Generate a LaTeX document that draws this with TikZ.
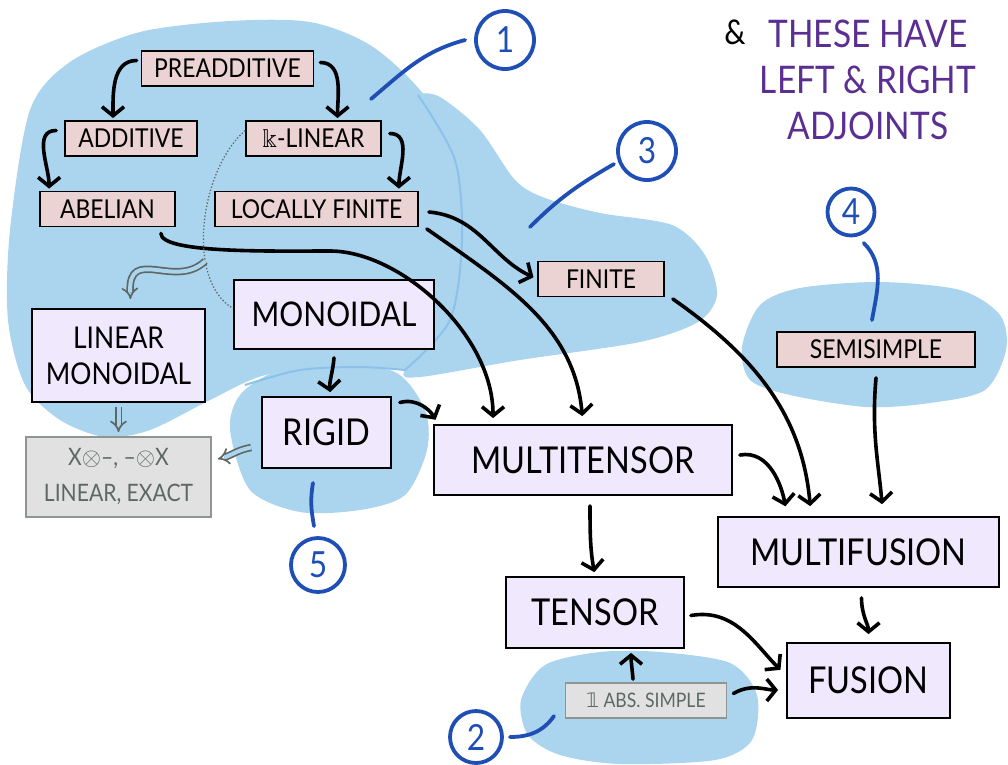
\documentclass[tikz,border=0pt]{standalone}
\usepackage{fontspec}
\setmainfont{Lato}[FakeStretch=0.88]
\newfontfamily\symfont{DejaVu Sans}
\usepackage{amssymb}
\usetikzlibrary{arrows.meta}

\definecolor{blob}{HTML}{ABD4EF}
\definecolor{blobedge}{HTML}{8CC2EA}
\definecolor{ink}{HTML}{1F4FB5}
\definecolor{plum}{HTML}{5B2F91}
\definecolor{catpink}{HTML}{EAD3D2}
\definecolor{lilac}{HTML}{F0E8FC}
\definecolor{notefill}{HTML}{E1E1E1}
\definecolor{notegray}{HTML}{5E6863}

\begin{document}
\begin{tikzpicture}[x=1pt, y=1pt,
    catbox/.style={draw=black, line width=1.8pt, fill=catpink, minimum width=#1,
        minimum height=35pt, inner sep=0pt, font=\fontsize{26}{30}\selectfont},
    bigbox/.style={draw=black, line width=1.8pt, fill=lilac, minimum width=#1,
        minimum height=70pt, inner sep=0pt, font=\fontsize{37}{44}\selectfont},
    notebox/.style={draw=notegray!70, line width=1.8pt, fill=notefill, text=notegray,
        minimum width=#1, inner sep=0pt, align=center},
    tag/.style={circle, draw=ink, line width=3.8pt, text=ink, minimum size=#1,
        inner sep=0pt, font=\fontsize{36}{36}\selectfont},
    tagline/.style={draw=ink, line width=3.8pt, line cap=round},
    flow/.style={draw=black, line width=3.6pt, line cap=round,
        -{Straight Barb[length=9pt,width=22pt]}, shorten >=2pt},
    implies/.style={draw=notegray, double=blob, double distance=4pt, line width=1.7pt,
        -{Implies[length=8pt]}},
  ]
    \useasboundingbox (0,0) rectangle (1008,-764);

    % Regions
    \fill[blob] plot[smooth cycle] coordinates {(30,-110) (70,-62) (140,-32) (230,-21)
        (310,-22) (370,-45) (420,-90) (468,-160) (478,-260) (466,-330) (420,-368)
        (330,-366) (262,-376) (210,-400) (150,-430) (105,-437) (60,-420) (25,-385)
        (8,-320) (10,-230)};
    \fill[blob] plot[smooth cycle] coordinates {(418,-95) (440,-97) (480,-130) (515,-180)
        (545,-198) (600,-213) (672,-225) (705,-255) (717,-295) (698,-322) (640,-342)
        (520,-360) (420,-377) (405,-370) (450,-320) (462,-240) (455,-160) (430,-115)};
    \fill[blob] plot[smooth cycle] coordinates {(230,-430) (240,-395) (275,-372)
        (330,-365) (395,-372) (425,-410) (427,-450) (405,-495) (360,-510) (300,-512)
        (250,-490)};
    \fill[blob] plot[smooth cycle] coordinates {(742,-347) (760,-305) (800,-288)
        (880,-282) (960,-290) (1000,-315) (1006,-350) (985,-390) (930,-403) (866,-407)
        (790,-395) (750,-380)};
    \fill[blob] plot[smooth cycle] coordinates {(521,-700) (545,-665) (600,-652)
        (660,-652) (730,-663) (757,-695) (752,-740) (715,-760) (620,-764) (560,-755)
        (528,-735)};
    \draw[blobedge, line width=2pt] plot[smooth] coordinates {(418,-95) (455,-160)
        (462,-240) (450,-320) (405,-370)};
    \draw[blobedge, line width=2pt] plot[smooth] coordinates {(245,-385) (300,-370)
        (360,-367) (405,-370)};

    % Numbered tags
    \node[tag=58pt] (tag1) at (505,-40) {1};
    \node[tag=58pt] (tag3) at (647,-151) {3};
    \node[tag=47pt] (tag4) at (851,-212) {4};
    \node[tag=54pt] (tag5) at (318,-565) {5};
    \node[tag=52pt] (tag2) at (476,-737) {2};
    \coordinate (pin1) at (371,-99);
    \coordinate (pin3) at (530,-227);
    \coordinate (pin4) at (872,-320);
    \coordinate (pin5) at (313,-483);
    \coordinate (pin2) at (554,-716);
    \draw[tagline] ([xshift=-9]tag1.west) to[out=195,in=40] (pin1);
    \draw[tagline] ([xshift=-5]tag3.205) to[out=210,in=45] (pin3);
    \draw[tagline] ([yshift=-9]tag4.-60) to[out=-45,in=80] (pin4);
    \draw[tagline] ([shift={(-4,10)}]tag5.north) to[out=100,in=-100] (pin5);
    \draw[tagline] ([xshift=6]tag2.east) to[out=0,in=-125] (pin2);

    % Side note
    \node[text=plum, align=center, font=\fontsize{38}{46}\selectfont] (adjnote)
        at (868,-80) {THESE HAVE\\LEFT \& RIGHT\\ADJOINTS};
    \node[font=\fontsize{34}{34}\selectfont] (amp) at (735,-32) {\&};

    % Categories
    \node[catbox=172pt] (preadd) at (227.5,-68.5) {PREADDITIVE};
    \node[catbox=132pt] (add) at (131,-138.5) {ADDITIVE};
    \node[catbox=135pt] (abel) at (107.5,-209) {ABELIAN};
    \node[catbox=135pt] (klin) at (313.5,-138.5) {$\Bbbk$-LINEAR};
    \node[catbox=203pt] (locfin) at (316.5,-209) {LOCALLY FINITE};
    \node[catbox=126pt] (finite) at (601,-279) {FINITE};
    \node[catbox=198pt] (semis) at (876,-349.5) {SEMISIMPLE};

    \node[bigbox=200pt, minimum height=69pt, font=\fontsize{34}{40}\selectfont]
        (monoidal) at (334,-314.5) {MONOIDAL};
    \node[bigbox=173pt, minimum height=93pt, align=center,
        font=\fontsize{30}{36}\selectfont] (linmon) at (118.5,-355.5) {LINEAR\\MONOIDAL};
    \node[bigbox=129pt, minimum height=71pt] (rigid) at (326.5,-432.5) {RIGID};
    \node[bigbox=298pt] (multitensor) at (583,-460) {MULTITENSOR};
    \node[bigbox=281pt] (multifusion) at (858.5,-552) {MULTIFUSION};
    \node[bigbox=178pt, minimum height=71pt] (tensor) at (595,-612.5) {TENSOR};
    \node[bigbox=163pt, minimum height=75pt] (fusion) at (868.5,-680.5) {FUSION};

    \node[notebox=185pt, minimum height=80pt, font=\fontsize{24}{36}\selectfont]
        (exact) at (118.5,-477) {X$\otimes$–, –$\otimes$X\\LINEAR, EXACT};
    \node[notebox=161pt, minimum height=35pt, font=\fontsize{20}{24}\selectfont]
        (abssimple) at (646,-700.5) {{\symfont 𝟙} ABS. SIMPLE};

    % Implications
    \draw[flow] ([shift={(-4,8)}]preadd.west) to[out=180,in=90] ([xshift=-18]add.north);
    \draw[flow] ([shift={(6,6)}]preadd.east) to[out=0,in=90] ([xshift=24]klin.north);
    \draw[flow] ([shift={(-8,8)}]add.west) to[out=180,in=90] ([xshift=10]abel.north west);
    \draw[flow] ([shift={(8,5)}]klin.east) to[out=0,in=90] ([xshift=-20]locfin.north east);
    \draw[flow, shorten >=4pt] ([shift={(10,-3)}]locfin.east) to[out=-5,in=155] (finite.west);
    \draw[flow, shorten >=8pt] ([shift={(8,-20)}]locfin.east) to[out=-35,in=95] (multitensor.north);
    \coordinate (abelbend) at (330,-251);
    \draw[flow, shorten >=6pt] ([shift={(-15,-6)}]abel.south east)
        .. controls +(0,-20) and +(-60,0) .. (abelbend)
        .. controls +(70,0) and +(0,90) .. ([xshift=-90]multitensor.north);
    \draw[flow, shorten >=4pt] ([yshift=-8]monoidal.south) to[out=-95,in=95] ([xshift=4]rigid.north);
    \draw[flow, shorten >=5pt] ([shift={(8,30)}]rigid.east) to[out=15,in=120] ([xshift=5]multitensor.north west);
    \draw[flow, shorten >=10pt] ([shift={(8,-20)}]finite.east) to[out=-35,in=95] ([xshift=94]multifusion.north west);
    \draw[flow, shorten >=10pt] ([shift={(7,5)}]multitensor.east) to[out=10,in=100] ([xshift=70]multifusion.north west);
    \draw[flow, shorten >=12pt] ([yshift=-10]semis.south) to[out=-95,in=95] ([xshift=166]multifusion.north west);
    \draw[flow, shorten >=4pt] ([shift={(7,-10)}]multitensor.south) to[out=-90,in=100] (tensor.north);
    \draw[flow, shorten >=8pt] ([shift={(3,-10)}]multifusion.south) to[out=-90,in=90] (fusion.north);
    \draw[flow, shorten >=8pt] ([shift={(6,-3)}]tensor.east) to[out=10,in=135] ([yshift=5]fusion.west);
    \draw[flow, shorten >=4pt] ([shift={(-13,3)}]abssimple.north) to[out=95,in=-90] ([xshift=36]tensor.south);
    \draw[flow, shorten >=8pt] ([shift={(6,7)}]abssimple.east) to[out=30,in=180] ([yshift=-9.5]fusion.west);

    % Side consequences
    \draw[notegray, dotted, line width=1.3pt] ([yshift=8]klin.west)
        .. controls (200,-170) and (185,-280) .. coordinate[pos=0.68] (arcfoot) ([yshift=6]monoidal.west);
    \draw[implies] (arcfoot) .. controls (175,-290) and (128,-245) .. ([shift={(12,9)}]linmon.north);
    \draw[implies] ([yshift=-4]linmon.south) -- ([yshift=4]exact.north);
    \draw[implies] ([shift={(-10,-15)}]rigid.west) to[out=190,in=15] ([shift={(6,18)}]exact.east);
\end{tikzpicture}
\end{document}
